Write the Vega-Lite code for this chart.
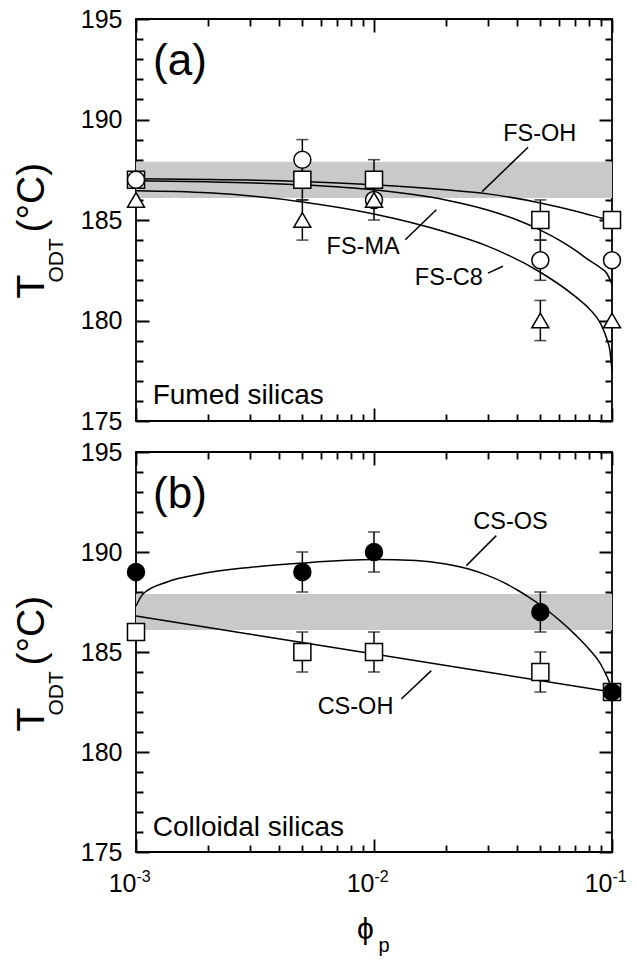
{
  "$schema": "https://vega.github.io/schema/vega-lite/v6.json",
  "background": "white",
  "padding": {"left": 11, "top": 6, "right": 0, "bottom": 0},
  "spacing": 31,
  "bounds": "flush",
  "datasets": {
    "band": [{"lo": 186.1, "hi": 187.9}],
    "ptsA": [
      {"s": "FS-OH", "phi": 0.001, "T": 187}, {"s": "FS-OH", "phi": 0.005, "T": 187}, {"s": "FS-OH", "phi": 0.01, "T": 187}, {"s": "FS-OH", "phi": 0.05, "T": 185}, {"s": "FS-OH", "phi": 0.1, "T": 185},
      {"s": "FS-MA", "phi": 0.001, "T": 187}, {"s": "FS-MA", "phi": 0.005, "T": 188}, {"s": "FS-MA", "phi": 0.01, "T": 186}, {"s": "FS-MA", "phi": 0.05, "T": 183}, {"s": "FS-MA", "phi": 0.1, "T": 183},
      {"s": "FS-C8", "phi": 0.001, "T": 186}, {"s": "FS-C8", "phi": 0.005, "T": 185}, {"s": "FS-C8", "phi": 0.01, "T": 186}, {"s": "FS-C8", "phi": 0.05, "T": 180}, {"s": "FS-C8", "phi": 0.1, "T": 180}
    ],
    "errA": [
      {"phi": 0.005, "lo": 187, "hi": 189}, {"phi": 0.005, "lo": 186, "hi": 188}, {"phi": 0.005, "lo": 184, "hi": 186},
      {"phi": 0.01, "lo": 186, "hi": 188}, {"phi": 0.01, "lo": 185, "hi": 187},
      {"phi": 0.05, "lo": 184, "hi": 186}, {"phi": 0.05, "lo": 182, "hi": 184}, {"phi": 0.05, "lo": 179, "hi": 181}
    ],
    "fitA": [
      {"s": "FS-OH", "phi": 0.001, "T": 187.05}, {"s": "FS-OH", "phi": 0.002, "T": 187.02}, {"s": "FS-OH", "phi": 0.005, "T": 186.92}, {"s": "FS-OH", "phi": 0.01, "T": 186.75}, {"s": "FS-OH", "phi": 0.02, "T": 186.5}, {"s": "FS-OH", "phi": 0.03, "T": 186.3}, {"s": "FS-OH", "phi": 0.05, "T": 185.85}, {"s": "FS-OH", "phi": 0.07, "T": 185.45}, {"s": "FS-OH", "phi": 0.09, "T": 185.1}, {"s": "FS-OH", "phi": 0.1, "T": 184.95},
      {"s": "FS-MA", "phi": 0.001, "T": 186.95}, {"s": "FS-MA", "phi": 0.002, "T": 186.9}, {"s": "FS-MA", "phi": 0.005, "T": 186.75}, {"s": "FS-MA", "phi": 0.01, "T": 186.5}, {"s": "FS-MA", "phi": 0.02, "T": 186.0}, {"s": "FS-MA", "phi": 0.03, "T": 185.5}, {"s": "FS-MA", "phi": 0.04, "T": 185.0}, {"s": "FS-MA", "phi": 0.05, "T": 184.5}, {"s": "FS-MA", "phi": 0.06, "T": 184.0}, {"s": "FS-MA", "phi": 0.07, "T": 183.5}, {"s": "FS-MA", "phi": 0.08, "T": 183.0}, {"s": "FS-MA", "phi": 0.09, "T": 182.6}, {"s": "FS-MA", "phi": 0.095, "T": 182.35}, {"s": "FS-MA", "phi": 0.1, "T": 181.8},
      {"s": "FS-C8", "phi": 0.001, "T": 186.45}, {"s": "FS-C8", "phi": 0.002, "T": 186.35}, {"s": "FS-C8", "phi": 0.005, "T": 185.9}, {"s": "FS-C8", "phi": 0.01, "T": 185.3}, {"s": "FS-C8", "phi": 0.02, "T": 184.4}, {"s": "FS-C8", "phi": 0.03, "T": 183.7}, {"s": "FS-C8", "phi": 0.05, "T": 182.4}, {"s": "FS-C8", "phi": 0.07, "T": 181.2}, {"s": "FS-C8", "phi": 0.08, "T": 180.6}, {"s": "FS-C8", "phi": 0.09, "T": 179.8}, {"s": "FS-C8", "phi": 0.095, "T": 179.1}, {"s": "FS-C8", "phi": 0.098, "T": 178.5}, {"s": "FS-C8", "phi": 0.1, "T": 177.5}
    ],
    "txtA": [
      {"kind": "panel", "phi": 0.00118, "T": 192.2, "text": "(a)"},
      {"kind": "note", "phi": 0.001175, "T": 175.85, "text": "Fumed silicas"},
      {"kind": "series", "phi": 0.0497, "T": 188.95, "text": "FS-OH"},
      {"kind": "series", "phi": 0.009, "T": 183.31, "text": "FS-MA"},
      {"kind": "series", "phi": 0.02062, "T": 181.77, "text": "FS-C8"}
    ],
    "leadA": [
      {"phi": 0.0444, "T": 188.62, "phi2": 0.02845, "T2": 186.41},
      {"phi": 0.01353, "T": 184.02, "phi2": 0.01828, "T2": 185.51},
      {"phi": 0.03013, "T": 182.36, "phi2": 0.03483, "T2": 182.7}
    ],
    "ptsB": [
      {"s": "CS-OH", "phi": 0.001, "T": 186}, {"s": "CS-OH", "phi": 0.005, "T": 185}, {"s": "CS-OH", "phi": 0.01, "T": 185}, {"s": "CS-OH", "phi": 0.05, "T": 184}, {"s": "CS-OH", "phi": 0.1, "T": 183},
      {"s": "CS-OS", "phi": 0.001, "T": 189}, {"s": "CS-OS", "phi": 0.005, "T": 189}, {"s": "CS-OS", "phi": 0.01, "T": 190}, {"s": "CS-OS", "phi": 0.05, "T": 187}, {"s": "CS-OS", "phi": 0.1, "T": 183}
    ],
    "errB": [
      {"phi": 0.005, "lo": 188, "hi": 190}, {"phi": 0.005, "lo": 184, "hi": 186},
      {"phi": 0.01, "lo": 189, "hi": 191}, {"phi": 0.01, "lo": 184, "hi": 186},
      {"phi": 0.05, "lo": 186, "hi": 188}, {"phi": 0.05, "lo": 183, "hi": 185}
    ],
    "fitB": [
      {"s": "CS-OS", "phi": 0.001, "T": 187.3}, {"s": "CS-OS", "phi": 0.00107, "T": 187.9}, {"s": "CS-OS", "phi": 0.00135, "T": 188.5}, {"s": "CS-OS", "phi": 0.00186, "T": 188.9}, {"s": "CS-OS", "phi": 0.003, "T": 189.23}, {"s": "CS-OS", "phi": 0.005, "T": 189.45}, {"s": "CS-OS", "phi": 0.01, "T": 189.62}, {"s": "CS-OS", "phi": 0.015, "T": 189.57}, {"s": "CS-OS", "phi": 0.02, "T": 189.4}, {"s": "CS-OS", "phi": 0.025, "T": 189.15}, {"s": "CS-OS", "phi": 0.03, "T": 188.83}, {"s": "CS-OS", "phi": 0.035, "T": 188.48}, {"s": "CS-OS", "phi": 0.04, "T": 188.1}, {"s": "CS-OS", "phi": 0.045, "T": 187.72}, {"s": "CS-OS", "phi": 0.05, "T": 187.35}, {"s": "CS-OS", "phi": 0.06, "T": 186.6}, {"s": "CS-OS", "phi": 0.07, "T": 185.87}, {"s": "CS-OS", "phi": 0.08, "T": 185.15}, {"s": "CS-OS", "phi": 0.09, "T": 184.35}, {"s": "CS-OS", "phi": 0.095, "T": 183.8}, {"s": "CS-OS", "phi": 0.098, "T": 183.4}, {"s": "CS-OS", "phi": 0.1, "T": 182.95},
      {"s": "CS-OH", "phi": 0.001, "T": 186.8}, {"s": "CS-OH", "phi": 0.01, "T": 184.9}, {"s": "CS-OH", "phi": 0.1, "T": 183.0}
    ],
    "txtB": [
      {"kind": "panel", "phi": 0.00118, "T": 192.2, "text": "(b)"},
      {"kind": "note", "phi": 0.001175, "T": 175.8, "text": "Colloidal silicas"},
      {"kind": "series", "phi": 0.03746, "T": 191.15, "text": "CS-OS"},
      {"kind": "series", "phi": 0.00836, "T": 181.9, "text": "CS-OH"}
    ],
    "leadB": [
      {"phi": 0.03265, "T": 190.82, "phi2": 0.02443, "T2": 189.32},
      {"phi": 0.01302, "T": 182.65, "phi2": 0.01741, "T2": 184.07}
    ]
  },
  "vconcat": [
    {
      "width": 476,
      "height": 402,
      "resolve": {"axis": {"x": "independent", "y": "independent"}},
      "layer": [
        {
          "data": {"name": "band"},
          "mark": {"type": "rect", "color": "#c9c9c9"},
          "encoding": {
            "y": {"field": "lo", "type": "quantitative", "scale": {"domain": [175, 195], "nice": false, "zero": false},
              "axis": {"orient": "left", "values": [175, 180, 185, 190, 195], "ticks": false, "labelFontSize": 25, "labelPadding": 14, "title": "T", "titleFontSize": 39, "titleAngle": 270, "titleAlign": "left", "titleBaseline": "alphabetic", "titleX": -93, "titleY": 279}},
            "y2": {"field": "hi"}
          }
        },
        {
          "data": {"name": "errA"},
          "mark": {"type": "rule", "color": "black", "strokeWidth": 1.5},
          "encoding": {
            "x": {"field": "phi", "type": "quantitative", "scale": {"type": "log", "domain": [0.001, 0.1], "nice": false},
              "axis": {"orient": "bottom", "values": [0.001, 0.01, 0.1], "labels": false, "ticks": false, "grid": true, "gridColor": "black", "gridWidth": 1.8, "gridOpacity": 1, "gridDash": [13, 376, 13], "title": null}},
            "y": {"field": "lo", "type": "quantitative", "scale": {"domain": [175, 195], "nice": false, "zero": false},
              "axis": {"orient": "left", "values": [175, 180, 185, 190, 195], "labels": false, "ticks": false, "grid": true, "gridColor": "black", "gridWidth": 1.8, "gridOpacity": 1, "gridDash": [13, 450, 13], "title": null}},
            "y2": {"field": "hi"}
          }
        },
        {
          "data": {"name": "errA"},
          "transform": [{"fold": ["lo", "hi"], "as": ["k", "v"]}],
          "mark": {"type": "tick", "orient": "horizontal", "color": "black", "thickness": 1.5, "size": 12},
          "encoding": {
            "x": {"field": "phi", "type": "quantitative", "scale": {"type": "log", "domain": [0.001, 0.1], "nice": false},
              "axis": {"orient": "bottom", "values": [0.002, 0.003, 0.004, 0.005, 0.006, 0.007, 0.008, 0.009, 0.02, 0.03, 0.04, 0.05, 0.06, 0.07, 0.08, 0.09], "labels": false, "ticks": false, "grid": true, "gridColor": "black", "gridWidth": 1.8, "gridOpacity": 1, "gridDash": [7, 388, 7], "title": null}},
            "y": {"field": "v", "type": "quantitative", "scale": {"domain": [175, 195], "nice": false, "zero": false},
              "axis": {"orient": "left", "values": [176, 177, 178, 179, 181, 182, 183, 184, 186, 187, 188, 189, 191, 192, 193, 194], "labels": false, "ticks": false, "grid": true, "gridColor": "black", "gridWidth": 1.8, "gridOpacity": 1, "gridDash": [7, 462, 7], "title": null}}
          }
        },
        {
          "data": {"name": "fitA"},
          "mark": {"type": "line", "color": "black", "strokeWidth": 1.5, "interpolate": "monotone"},
          "encoding": {
            "x": {"field": "phi", "type": "quantitative", "scale": {"type": "log", "domain": [0.001, 0.1], "nice": false}, "axis": null},
            "y": {"field": "T", "type": "quantitative", "scale": {"domain": [175, 195], "nice": false, "zero": false}, "axis": null},
            "detail": {"field": "s"}
          }
        },
        {
          "data": {"name": "ptsA"},
          "mark": {"type": "point", "filled": true, "fill": "white", "stroke": "black", "strokeWidth": 1.5, "size": 290, "opacity": 1},
          "encoding": {
            "x": {"field": "phi", "type": "quantitative", "scale": {"type": "log", "domain": [0.001, 0.1], "nice": false}, "axis": null},
            "y": {"field": "T", "type": "quantitative", "scale": {"domain": [175, 195], "nice": false, "zero": false}, "axis": null},
            "shape": {"field": "s", "type": "nominal", "scale": {"domain": ["FS-OH", "FS-MA", "FS-C8"], "range": ["square", "circle", "triangle-up"]}, "legend": null}
          }
        },
        {
          "data": {"name": "txtA"},
          "transform": [{"filter": "datum.kind == 'series'"}],
          "mark": {"type": "text", "fontSize": 23.5, "align": "center", "baseline": "alphabetic"},
          "encoding": {
            "x": {"field": "phi", "type": "quantitative", "scale": {"type": "log", "domain": [0.001, 0.1], "nice": false}, "axis": null},
            "y": {"field": "T", "type": "quantitative", "scale": {"domain": [175, 195], "nice": false, "zero": false},
              "axis": {"orient": "left", "ticks": false, "labels": false, "title": "ODT", "titleFontSize": 21, "titleAngle": 270, "titleAlign": "left", "titleBaseline": "alphabetic", "titleX": -74, "titleY": 263}},
            "text": {"field": "text"}
          }
        },
        {
          "data": {"name": "txtA"},
          "transform": [{"filter": "datum.kind == 'panel'"}],
          "mark": {"type": "text", "fontSize": 44, "align": "left", "baseline": "alphabetic"},
          "encoding": {
            "x": {"field": "phi", "type": "quantitative", "scale": {"type": "log", "domain": [0.001, 0.1], "nice": false}, "axis": null},
            "y": {"field": "T", "type": "quantitative", "scale": {"domain": [175, 195], "nice": false, "zero": false}, "axis": null},
            "text": {"field": "text"}
          }
        },
        {
          "data": {"name": "txtA"},
          "transform": [{"filter": "datum.kind == 'note'"}],
          "mark": {"type": "text", "fontSize": 28, "align": "left", "baseline": "alphabetic"},
          "encoding": {
            "x": {"field": "phi", "type": "quantitative", "scale": {"type": "log", "domain": [0.001, 0.1], "nice": false}, "axis": null},
            "y": {"field": "T", "type": "quantitative", "scale": {"domain": [175, 195], "nice": false, "zero": false}, "axis": null},
            "text": {"field": "text"}
          }
        },
        {
          "data": {"name": "leadA"},
          "mark": {"type": "rule", "color": "black", "strokeWidth": 1.5},
          "encoding": {
            "x": {"field": "phi", "type": "quantitative", "scale": {"type": "log", "domain": [0.001, 0.1], "nice": false}, "axis": null},
            "x2": {"field": "phi2"},
            "y": {"field": "T", "type": "quantitative", "scale": {"domain": [175, 195], "nice": false, "zero": false},
              "axis": {"orient": "left", "ticks": false, "labels": false, "title": "(°C)", "titleFontSize": 39, "titleAngle": 270, "titleAlign": "left", "titleBaseline": "alphabetic", "titleX": -93, "titleY": 213}},
            "y2": {"field": "T2"}
          }
        }
      ]
    },
    {
      "width": 476,
      "height": 400,
      "resolve": {"axis": {"x": "independent", "y": "independent"}},
      "layer": [
        {
          "data": {"name": "band"},
          "mark": {"type": "rect", "color": "#c9c9c9"},
          "encoding": {
            "y": {"field": "lo", "type": "quantitative", "scale": {"domain": [175, 195], "nice": false, "zero": false},
              "axis": {"orient": "left", "values": [175, 180, 185, 190, 195], "ticks": false, "labelFontSize": 25, "labelPadding": 14, "title": "T", "titleFontSize": 39, "titleAngle": 270, "titleAlign": "left", "titleBaseline": "alphabetic", "titleX": -93, "titleY": 279}},
            "y2": {"field": "hi"}
          }
        },
        {
          "data": {"name": "errB"},
          "mark": {"type": "rule", "color": "black", "strokeWidth": 1.5},
          "encoding": {
            "x": {"field": "phi", "type": "quantitative", "scale": {"type": "log", "domain": [0.001, 0.1], "nice": false},
              "axis": {"orient": "bottom", "values": [0.001, 0.01, 0.1], "labels": false, "ticks": false, "grid": true, "gridColor": "black", "gridWidth": 1.8, "gridOpacity": 1, "gridDash": [13, 374, 13], "title": null}},
            "y": {"field": "lo", "type": "quantitative", "scale": {"domain": [175, 195], "nice": false, "zero": false},
              "axis": {"orient": "left", "values": [175, 180, 185, 190, 195], "labels": false, "ticks": false, "grid": true, "gridColor": "black", "gridWidth": 1.8, "gridOpacity": 1, "gridDash": [13, 450, 13], "title": null}},
            "y2": {"field": "hi"}
          }
        },
        {
          "data": {"name": "errB"},
          "transform": [{"fold": ["lo", "hi"], "as": ["k", "v"]}],
          "mark": {"type": "tick", "orient": "horizontal", "color": "black", "thickness": 1.5, "size": 12},
          "encoding": {
            "x": {"field": "phi", "type": "quantitative", "scale": {"type": "log", "domain": [0.001, 0.1], "nice": false},
              "axis": {"orient": "bottom", "values": [0.002, 0.003, 0.004, 0.005, 0.006, 0.007, 0.008, 0.009, 0.02, 0.03, 0.04, 0.05, 0.06, 0.07, 0.08, 0.09], "labels": false, "ticks": false, "grid": true, "gridColor": "black", "gridWidth": 1.8, "gridOpacity": 1, "gridDash": [7, 386, 7], "title": null}},
            "y": {"field": "v", "type": "quantitative", "scale": {"domain": [175, 195], "nice": false, "zero": false},
              "axis": {"orient": "left", "values": [176, 177, 178, 179, 181, 182, 183, 184, 186, 187, 188, 189, 191, 192, 193, 194], "labels": false, "ticks": false, "grid": true, "gridColor": "black", "gridWidth": 1.8, "gridOpacity": 1, "gridDash": [7, 462, 7], "title": null}}
          }
        },
        {
          "data": {"name": "fitB"},
          "mark": {"type": "line", "color": "black", "strokeWidth": 1.5, "interpolate": "monotone"},
          "encoding": {
            "x": {"field": "phi", "type": "quantitative", "scale": {"type": "log", "domain": [0.001, 0.1], "nice": false}, "axis": null},
            "y": {"field": "T", "type": "quantitative", "scale": {"domain": [175, 195], "nice": false, "zero": false}, "axis": null},
            "detail": {"field": "s"}
          }
        },
        {
          "data": {"name": "ptsB"},
          "mark": {"type": "point", "filled": true, "stroke": "black", "strokeWidth": 1.5, "size": 290, "opacity": 1},
          "encoding": {
            "x": {"field": "phi", "type": "quantitative", "scale": {"type": "log", "domain": [0.001, 0.1], "nice": false}, "axis": null},
            "y": {"field": "T", "type": "quantitative", "scale": {"domain": [175, 195], "nice": false, "zero": false}, "axis": null},
            "shape": {"field": "s", "type": "nominal", "scale": {"domain": ["CS-OH", "CS-OS"], "range": ["square", "circle"]}, "legend": null},
            "fill": {"field": "s", "type": "nominal", "scale": {"domain": ["CS-OH", "CS-OS"], "range": ["white", "black"]}, "legend": null}
          }
        },
        {
          "data": {"name": "txtB"},
          "transform": [{"filter": "datum.kind == 'series'"}],
          "mark": {"type": "text", "fontSize": 23.5, "align": "center", "baseline": "alphabetic"},
          "encoding": {
            "x": {"field": "phi", "type": "quantitative", "scale": {"type": "log", "domain": [0.001, 0.1], "nice": false},
              "axis": {"orient": "bottom", "values": [0.001, 0.01, 0.1], "ticks": false, "labelExpr": "'10'", "labelAlign": "right", "labelDx": 4, "labelFontSize": 25, "labelPadding": 19, "title": "ϕ", "titleFontSize": 30, "titleAlign": "center", "titleBaseline": "alphabetic", "titleX": 229, "titleY": 86}},
            "y": {"field": "T", "type": "quantitative", "scale": {"domain": [175, 195], "nice": false, "zero": false},
              "axis": {"orient": "left", "ticks": false, "labels": false, "title": "ODT", "titleFontSize": 21, "titleAngle": 270, "titleAlign": "left", "titleBaseline": "alphabetic", "titleX": -74, "titleY": 263}},
            "text": {"field": "text"}
          }
        },
        {
          "data": {"name": "txtB"},
          "transform": [{"filter": "datum.kind == 'panel'"}],
          "mark": {"type": "text", "fontSize": 44, "align": "left", "baseline": "alphabetic"},
          "encoding": {
            "x": {"field": "phi", "type": "quantitative", "scale": {"type": "log", "domain": [0.001, 0.1], "nice": false}, "axis": null},
            "y": {"field": "T", "type": "quantitative", "scale": {"domain": [175, 195], "nice": false, "zero": false}, "axis": null},
            "text": {"field": "text"}
          }
        },
        {
          "data": {"name": "txtB"},
          "transform": [{"filter": "datum.kind == 'note'"}],
          "mark": {"type": "text", "fontSize": 28, "align": "left", "baseline": "alphabetic"},
          "encoding": {
            "x": {"field": "phi", "type": "quantitative", "scale": {"type": "log", "domain": [0.001, 0.1], "nice": false}, "axis": null},
            "y": {"field": "T", "type": "quantitative", "scale": {"domain": [175, 195], "nice": false, "zero": false}, "axis": null},
            "text": {"field": "text"}
          }
        },
        {
          "data": {"name": "leadB"},
          "mark": {"type": "rule", "color": "black", "strokeWidth": 1.5},
          "encoding": {
            "x": {"field": "phi", "type": "quantitative", "scale": {"type": "log", "domain": [0.001, 0.1], "nice": false},
              "axis": {"orient": "bottom", "values": [0.001, 0.01, 0.1], "ticks": false, "labelExpr": "datum.value < 0.005 ? '-3' : datum.value < 0.05 ? '-2' : '-1'", "labelAlign": "left", "labelDx": 5, "labelFontSize": 16, "labelPadding": 16.5, "title": "p", "titleFontSize": 20, "titleAlign": "left", "titleBaseline": "alphabetic", "titleX": 242, "titleY": 99}},
            "x2": {"field": "phi2"},
            "y": {"field": "T", "type": "quantitative", "scale": {"domain": [175, 195], "nice": false, "zero": false},
              "axis": {"orient": "left", "ticks": false, "labels": false, "title": "(°C)", "titleFontSize": 39, "titleAngle": 270, "titleAlign": "left", "titleBaseline": "alphabetic", "titleX": -93, "titleY": 213}},
            "y2": {"field": "T2"}
          }
        }
      ]
    }
  ],
  "config": {
    "font": "Liberation Sans",
    "view": {"stroke": "black", "strokeWidth": 1.8},
    "axis": {"grid": false, "domain": false, "labelFont": "Liberation Sans", "titleFont": "Liberation Sans", "labelColor": "black", "titleColor": "black", "tickColor": "black", "tickWidth": 1.5, "titleFontWeight": "normal", "labelFlush": false, "labelOverlap": false, "titlePadding": 0},
    "text": {"font": "Liberation Sans", "color": "black"}
  }
}
